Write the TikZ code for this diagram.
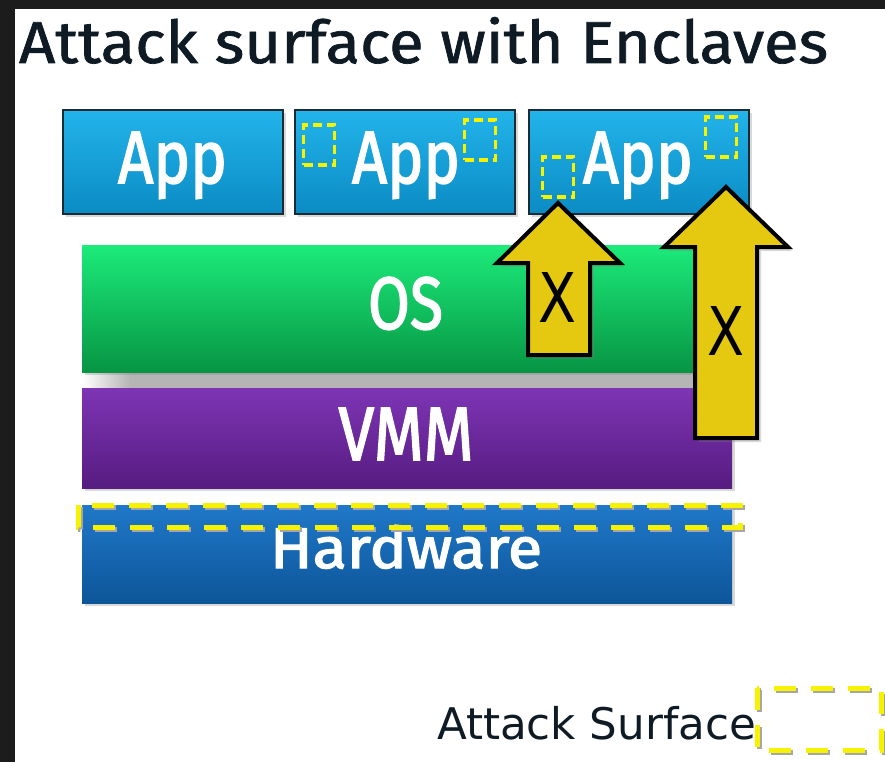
\documentclass[tikz,border=0pt]{standalone}
\usepackage{fontspec}
\usetikzlibrary{shadows}
\newfontfamily\titlefont[FakeBold=1.2]{Fira Sans}
\newfontfamily\boxfont[FakeBold=2.2]{Fira Sans}
\newfontfamily\legendfont{DejaVu Sans}
\definecolor{slidedark}{HTML}{1C1C1C}
\definecolor{titleink}{HTML}{0E1A24}
\definecolor{apptop}{HTML}{22B4EA}
\definecolor{appbottom}{HTML}{0B8BC4}
\definecolor{appedge}{HTML}{1C2A33}
\definecolor{ostop}{HTML}{1CEB7A}
\definecolor{osmid}{HTML}{0BA950}
\definecolor{osbottom}{HTML}{079543}
\definecolor{vmmtop}{HTML}{7E35B5}
\definecolor{vmmbottom}{HTML}{561C80}
\definecolor{hwtop}{HTML}{1F78C8}
\definecolor{hwbottom}{HTML}{0D5599}
\definecolor{greyband}{HTML}{B5B5B5}
\definecolor{arrowfill}{HTML}{E5C911}
\definecolor{dashyellow}{HTML}{F7F200}
\begin{document}
\begin{tikzpicture}[
x=1pt,y=-1pt,
every node/.style={inner sep=0pt,outer sep=0pt},
layer/.style={rectangle,anchor=north west,
  drop shadow={opacity=0.3,shadow xshift=3pt,shadow yshift=-3pt}},
appbox/.style={layer,draw=appedge,line width=1.5pt,top color=apptop,
  bottom color=appbottom,minimum width=220pt,minimum height=104pt},
osbox/.style={layer,top color=ostop,middle color=osmid,bottom color=osbottom,
  minimum width=618pt,minimum height=127pt},
vmmbox/.style={layer,top color=vmmtop,bottom color=vmmbottom,
  minimum width=650pt,minimum height=100pt},
hwbox/.style={layer,top color=hwtop,bottom color=hwbottom,
  minimum width=650pt,minimum height=98pt},
boxtext/.style={anchor=base,text=white,font=\boxfont},
enclave/.style={draw=dashyellow,line width=3.5pt,dash pattern=on 9pt off 5pt,
  minimum width=31pt,minimum height=40pt},
surface/.style={draw=dashyellow,line width=5pt,dash pattern=on 22pt off 15pt,
  preaction={draw=gray!70,line width=5pt,dash pattern=on 22pt off 15pt,
    transform canvas={shift={(2pt,-2pt)}}}},
blockarrow/.style={fill=arrowfill,draw=black,line width=4pt,
  drop shadow={opacity=0.3,shadow xshift=4pt,shadow yshift=-4pt}},
xmark/.style={anchor=base,text=black,font=\legendfont}
]
\fill[slidedark] (0,0) rectangle (885,762);
\fill[white] (15,9) rectangle (885,762);
\useasboundingbox (0,0) rectangle (885,762);

\node[anchor=base west,text=titleink,font=\titlefont] (title) at (19,63)
  {\resizebox{809pt}{46pt}{Attack surface with Enclaves}};

\node[appbox] (app1) at (63,110) {};
\node[appbox] (app2) at (295,110) {};
\node[appbox] (app3) at (529,110) {};
\node[boxtext] (app1txt) at (172.5,183) {\resizebox{109pt}{51pt}{App}};
\node[boxtext] (app2txt) at (406,183) {\resizebox{108pt}{51pt}{App}};
\node[boxtext] (app3txt) at (638,183) {\resizebox{110pt}{51pt}{App}};

\node[enclave] (enc2a) at (319,145) {};
\node[enclave] (enc2b) at (480,140) {};
\node[enclave] (enc3a) at (558,177) {};
\node[enclave] (enc3b) at (721,137) {};

\shade[left color=white,right color=greyband] (82,372) rectangle (130,388);
\fill[greyband] (130,372) rectangle (700,388);

\node[osbox] (os) at (82,245) {};
\node[vmmbox] (vmm) at (82,388) {};
\node[hwbox] (hw) at (82,505) {};
\node[boxtext] (ostxt) at (405.5,329) {\resizebox{75pt}{52pt}{OS}};
\node[boxtext] (vmmtxt) at (406,460) {\resizebox{135pt}{52pt}{VMM}};
\node[boxtext] (hwtxt) at (406,568) {\resizebox{272pt}{43pt}{Hardware}};

\draw[surface] (78,505) rectangle (740,527);

\draw[blockarrow] (528,355) -- (528,263) -- (497,263) -- (558,203)
  -- (620,263) -- (590,263) -- (590,355) -- cycle;
\draw[blockarrow] (695,438) -- (695,247) -- (664,247) -- (726,187)
  -- (788,247) -- (757,247) -- (757,438) -- cycle;
\node[xmark] (xos) at (557.5,322) {\resizebox{38pt}{50pt}{X}};
\node[xmark] (xvmm) at (725.5,355) {\resizebox{37pt}{49pt}{X}};

\node[anchor=base west,text=titleink,font=\legendfont] (legend) at (437,739)
  {\resizebox{319pt}{!}{Attack Surface}};
\draw[surface] (757,688) rectangle (881,750);
\end{tikzpicture}
\end{document}
